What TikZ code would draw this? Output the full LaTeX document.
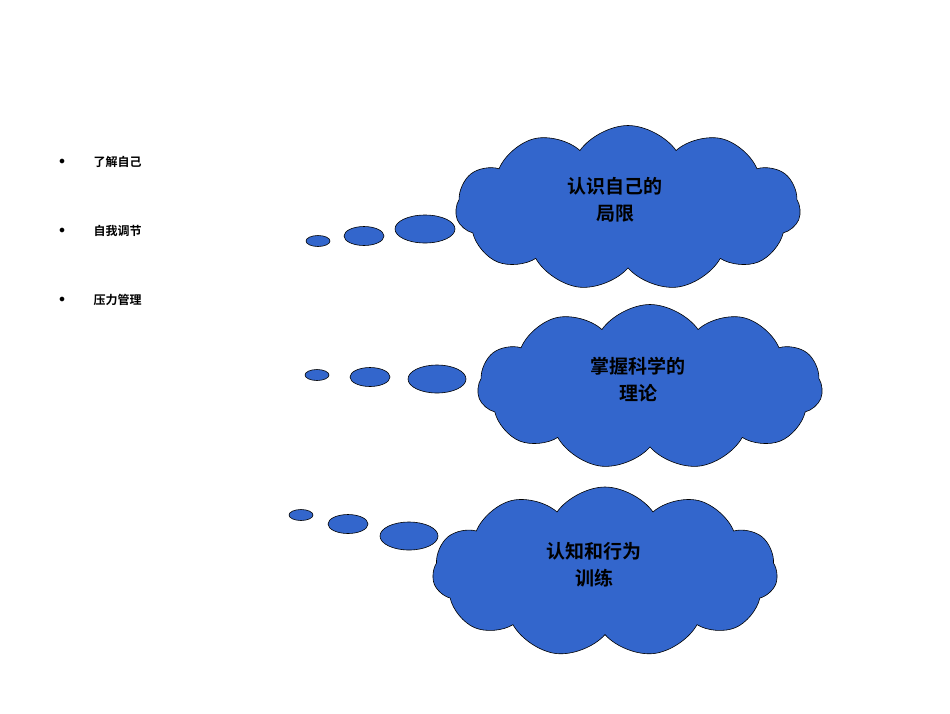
\documentclass[tikz,border=0pt]{standalone}
\usepackage{fontspec}
\newfontfamily\cjk{Noto Sans CJK SC Bold}
\usetikzlibrary{shapes.symbols,shapes.geometric}
\definecolor{cb}{HTML}{3366CC}
\begin{document}
\begin{tikzpicture}[x=1pt,y=-1pt,
  cl/.style={cloud,cloud puffs=11,cloud puff arc=110,aspect=2,draw=black,fill=cb,line width=0.6pt,inner sep=0pt},
  bub/.style={ellipse,draw=black,fill=cb,line width=0.6pt,inner sep=0pt},
  ct/.style={font=\cjk\fontsize{19}{23}\selectfont,align=center,text=black},
  bt/.style={font=\cjk\fontsize{12}{14}\selectfont,anchor=west}]
\useasboundingbox (0,0) rectangle (950,713);
\node[cl,minimum width=345pt,minimum height=165pt] (c1) at (628,208) {};
\node[cl,minimum width=345pt,minimum height=165pt] (c2) at (650,387) {};
\node[cl,minimum width=345pt,minimum height=170pt] (c3) at (605,572) {};
\node[ct] (t1) at (615,200) {认识自己的\\[4pt]局限};
\node[ct] (t2) at (638,380) {掌握科学的\\[4pt]理论};
\node[ct] (t3) at (594,565) {认知和行为\\[4pt]训练};
\node[bub,minimum width=24pt,minimum height=11pt] (a1) at (318,241) {};
\node[bub,minimum width=40pt,minimum height=19pt] (a2) at (364,236) {};
\node[bub,minimum width=60pt,minimum height=28pt] (a3) at (425,229) {};
\node[bub,minimum width=24pt,minimum height=11pt] (b1) at (317,375) {};
\node[bub,minimum width=40pt,minimum height=19pt] (b2) at (370,377) {};
\node[bub,minimum width=58pt,minimum height=28pt] (b3) at (437,379) {};
\node[bub,minimum width=24pt,minimum height=11pt] (d1) at (301,515) {};
\node[bub,minimum width=40pt,minimum height=19pt] (d2) at (348,524) {};
\node[bub,minimum width=58pt,minimum height=28pt] (d3) at (409,536) {};
\foreach \y/\t/\n in {162/了解自己/l1,231/自我调节/l2,300/压力管理/l3}{
  \node[font=\fontsize{12}{14}\selectfont] (p\n) at (62,\y) {$\bullet$};
  \node[bt] (\n) at (90,\y) {\t};
}
\end{tikzpicture}
\end{document}
